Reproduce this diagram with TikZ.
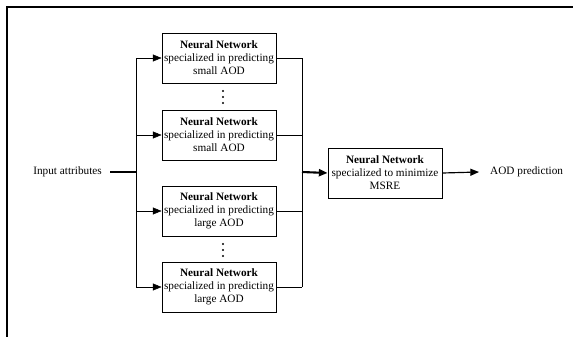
\documentclass[tikz,border=0pt]{standalone}
\usepackage{fontspec}
\setmainfont{Liberation Serif}
\usetikzlibrary{scopes,arrows.meta}

\begin{document}
\begin{tikzpicture}[
    x=0.03cm,y=-0.03cm,
    net/.style={rectangle,draw=black,line width=0.8pt,minimum width=3.42cm,minimum height=1.5cm,inner sep=0pt,align=center,font=\fontsize{9.6}{11.1}\selectfont},
    lbl/.style={font=\fontsize{9.6}{11.1}\selectfont,inner ysep=0pt,inner xsep=0.24cm},
    wire/.style={line width=1.3pt},
    arr/.style={-{Triangle[length=0.26cm,width=0.21cm]}},
]
    \useasboundingbox (0,0) rectangle (573,337);
    \draw[line width=1.5pt] (573,7) -- (7,7) -- (7,337);

    \node[net] (nn1) at (219,58) {\textbf{Neural Network}\\specialized in predicting\\small AOD};
    \node[net] (nn2) at (219,135) {\textbf{Neural Network}\\specialized in predicting\\small AOD};
    \node[net] (nn3) at (219,211) {\textbf{Neural Network}\\specialized in predicting\\large AOD};
    \node[net] (nn4) at (219,287) {\textbf{Neural Network}\\specialized in predicting\\large AOD};
    \node[net] (mse) at (385,173) {\textbf{Neural Network}\\specialized to minimize\\MSRE};
    \node[lbl,anchor=east] (in) at (110,172) {Input attributes};
    \node[lbl,anchor=west,inner xsep=0.33cm] (out) at (479,172) {AOD prediction};
    \coordinate (lbus) at (136,172);
    \coordinate (rbus) at (302,172);

    \foreach \y in {91,97,103,244,250,256}
        \fill (223,\y) circle (0.035cm);

    {[wire]
        \draw[line width=1.8pt] (in.east) -- (lbus);
        \draw (lbus |- nn1.west) -- (lbus |- nn4.west);
        \draw (rbus |- nn1.east) -- (rbus |- nn4.east);
        \foreach \n in {nn1,nn2,nn3,nn4} {
            \draw[arr] (lbus |- \n.west) -- (\n.west);
            \draw (\n.east) -- (rbus |- \n.east);
        }
        \draw[arr,line width=1.8pt] (rbus) -- (mse.west);
        \draw[arr,line width=1pt] (mse.east) -- (out.west);
    }
\end{tikzpicture}
\end{document}
